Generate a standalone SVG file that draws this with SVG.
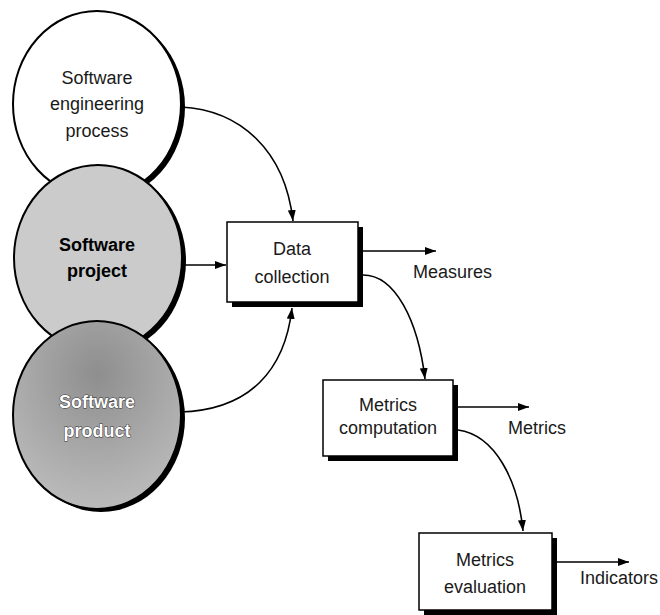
<svg xmlns="http://www.w3.org/2000/svg" width="660" height="615" viewBox="0 0 660 615">
<defs>
<style>
text{font-family:"Liberation Sans",Arial,sans-serif;font-size:18px;fill:#1a1a1a}
.c{text-anchor:middle}
.b{font-weight:bold;fill:#000}
.w{fill:#fff;stroke:#333;stroke-width:1px;paint-order:stroke;font-weight:bold}
.edge{fill:none;stroke:#000;stroke-width:1.6}
.sh{fill:#000}
.box{fill:#fff;stroke:#000;stroke-width:1.5}
.ell{stroke:#000;stroke-width:2}
</style>
<marker id="ah" markerWidth="12" markerHeight="10" refX="11" refY="4" orient="auto" markerUnits="userSpaceOnUse">
<path d="M0,0 L11,4 L0,8 Z" fill="#000"/>
</marker>
<radialGradient id="g3" cx="0.5" cy="0.28" r="0.75">
<stop offset="0" stop-color="#8e8e8e"/>
<stop offset="1" stop-color="#bdbdbd"/>
</radialGradient>
</defs>
<g id="process">
<ellipse class="sh" cx="101" cy="107" rx="84" ry="93"/>
<ellipse class="ell" cx="97" cy="104" rx="84" ry="93" fill="#fff"/>
<text class="c" x="97" y="84">Software</text>
<text class="c" x="97" y="110">engineering</text>
<text class="c" x="97" y="137">process</text>
</g>
<g id="project">
<ellipse class="sh" cx="102" cy="261" rx="84" ry="93"/>
<ellipse class="ell" cx="98" cy="258" rx="84" ry="93" fill="#cbcbcb"/>
<text class="c b" x="97" y="251">Software</text>
<text class="c b" x="97" y="277">project</text>
</g>
<g id="product">
<ellipse class="sh" cx="101" cy="418" rx="84" ry="94"/>
<ellipse class="ell" cx="97" cy="415" rx="84" ry="94" fill="url(#g3)"/>
<text class="c w" x="97" y="408">Software</text>
<text class="c w" x="97" y="437">product</text>
</g>
<g id="data-collection">
<rect class="sh" x="232" y="227" width="131" height="80"/>
<rect class="box" x="227" y="222" width="131" height="80"/>
<text class="c" x="292" y="255">Data</text>
<text class="c" x="292" y="283">collection</text>
</g>
<g id="metrics-computation">
<rect class="sh" x="328" y="385" width="130" height="76"/>
<rect class="box" x="323" y="380" width="130" height="76"/>
<text class="c" x="388" y="411">Metrics</text>
<text class="c" x="388" y="434">computation</text>
</g>
<g id="metrics-evaluation">
<rect class="sh" x="424" y="538" width="133" height="77"/>
<rect class="box" x="419" y="533" width="133" height="77"/>
<text class="c" x="485" y="566">Metrics</text>
<text class="c" x="485" y="593">evaluation</text>
</g>
<g id="labels">
<text x="413" y="278">Measures</text>
<text x="508" y="434">Metrics</text>
<text x="580" y="584">Indicators</text>
</g>
<g id="connectors">
<path class="edge" marker-end="url(#ah)" d="M181,107 C240,110 285,150 293,221"/>
<path class="edge" marker-end="url(#ah)" d="M181,265 L226,265"/>
<path class="edge" marker-end="url(#ah)" d="M180,412 C250,410 285,370 292,308"/>
<path class="edge" marker-end="url(#ah)" d="M363,251 L436,251"/>
<path class="edge" marker-end="url(#ah)" d="M363,275 C395,275 418,320 425,379"/>
<path class="edge" marker-end="url(#ah)" d="M458,407 L529,407"/>
<path class="edge" marker-end="url(#ah)" d="M458,430 C495,435 518,480 523,531"/>
<path class="edge" marker-end="url(#ah)" d="M557,562 L629,562"/>
</g>
</svg>
